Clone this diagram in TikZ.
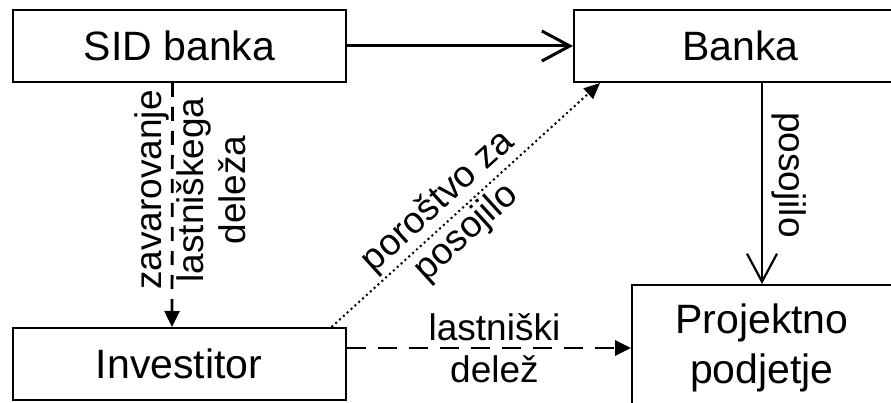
\documentclass[tikz,border=0pt]{standalone}
\usepackage{fontspec}
\setmainfont{Liberation Sans}
\usetikzlibrary{arrows.meta}

\begin{document}
\begin{tikzpicture}[x=1pt, y=-1pt,
box/.style={draw, line width=2pt, minimum width=333pt, minimum height=72pt,
	inner sep=0pt, align=center, font=\fontsize{41}{50}\selectfont},
lbl/.style={inner sep=0pt, align=center, font=\fontsize{37}{42}\selectfont},
openarrow/.style={line width=2.2pt, -{Straight Barb[length=28pt,width=30pt]}},
filledarrow/.style={line width=2.8pt, -{Triangle[length=16pt,width=15pt]}}]
\useasboundingbox (0,0) rectangle (891,403);
% boxes
\node[box] (sid) at (179.5,46) {SID banka};
\node[box] (banka) at (740.5,46) {Banka};
\node[box] (inv) at (179,364) {Investitor};
\node[box, minimum width=260pt, minimum height=126pt] (proj) at (762,348) {Projektno\\podjetje};
% connectors
\draw[openarrow, line width=3pt] (sid) -- (banka);
\draw[openarrow, line width=2.2pt] (proj.north |- banka.south) -- (proj.north);
\draw[filledarrow, dash pattern=on 14pt off 10pt] ([xshift=-7pt]sid.south) -- ([xshift=-7pt]inv.north);
\draw[filledarrow, dash pattern=on 19pt off 12pt] (inv.east |- proj.west) -- (proj.west)
	node[lbl, pos=0.52] (delez) {lastniški\\delež};
\draw[line width=2pt, dash pattern=on 2pt off 3.2pt, -{Triangle[length=16pt,width=14pt]}]
	([xshift=-15pt]inv.north east) -- ([xshift=27pt]banka.south west)
	node[lbl, pos=0.45, sloped] (porostvo) {poroštvo za\\posojilo};
% labels beside the vertical lines
\node[lbl, rotate=90] (zavar) at (190,190) {zavarovanje\\lastniškega\\deleža};
\node[lbl, rotate=-90] (posoj) at (789,175) {posojilo};
\end{tikzpicture}
\end{document}
